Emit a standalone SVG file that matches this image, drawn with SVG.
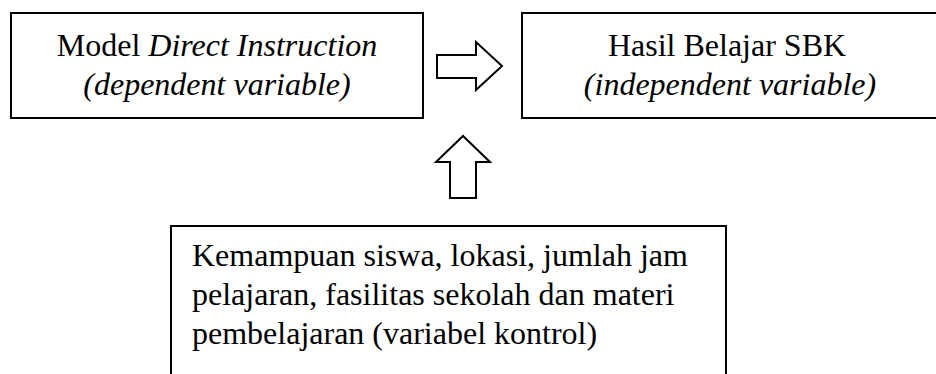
<svg xmlns="http://www.w3.org/2000/svg" width="936" height="374" viewBox="0 0 936 374">
<style>
.box{fill:#fff;stroke:#000;stroke-width:2}
.arr{fill:#fff;stroke:#000;stroke-width:2;stroke-linejoin:miter}
text{font-family:'Liberation Serif','Times New Roman',Tinos,serif;font-size:32px;fill:#000}
.c{text-anchor:middle}
.i{font-style:italic}
</style>
<rect width="936" height="374" fill="#fff"/>
<g id="node-direct-instruction">
<rect class="box" x="11" y="13" width="412" height="105"/>
<text class="c" x="217" y="56">Model <tspan class="i">Direct Instruction</tspan></text>
<text class="c i" x="217" y="95">(dependent variable)</text>
</g>
<g id="node-hasil-belajar">
<rect class="box" x="522" y="13" width="420" height="105"/>
<text class="c" x="727" y="56">Hasil Belajar SBK</text>
<text class="c i" x="730" y="95">(independent variable)</text>
</g>
<g id="node-variabel-kontrol">
<rect class="box" x="171" y="226" width="555" height="160"/>
<text x="192" y="266">Kemampuan siswa, lokasi, jumlah jam</text>
<text x="192" y="305">pelajaran, fasilitas sekolah dan materi</text>
<text x="192" y="344">pembelajaran (variabel kontrol)</text>
</g>
<g id="connectors">
<polygon class="arr" points="437,55 476,55 476,42 502,66 476,90 476,78 437,78"/>
<polygon class="arr" points="450,198 450,162 436,162 463,136 490,162 476,162 476,198"/>
</g>
</svg>
